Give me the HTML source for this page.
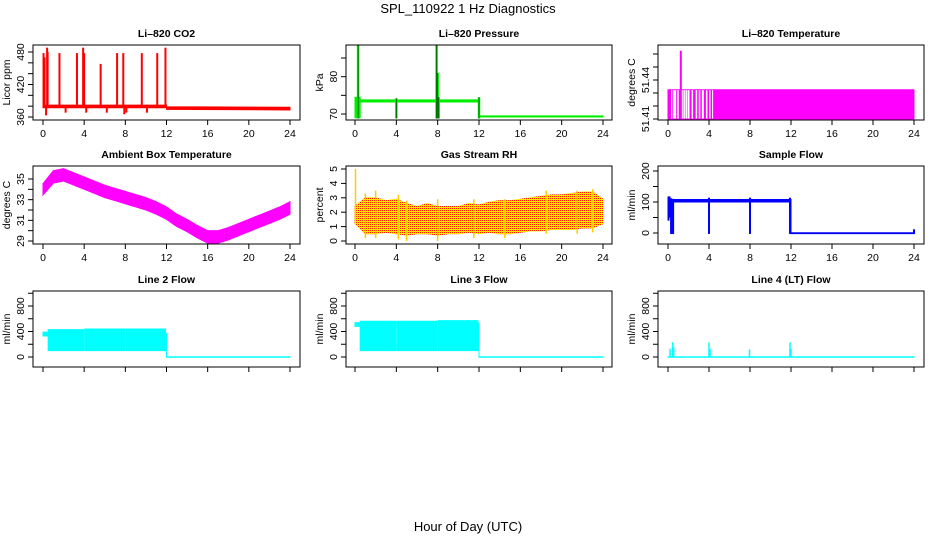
<!DOCTYPE html>
<html><head><meta charset="utf-8"><style>
html,body{margin:0;padding:0;background:#fff;}
svg{display:block;font-family:"Liberation Sans",sans-serif;}
</style></head><body>
<svg id="chart" width="936" height="540" viewBox="0 0 936 540" xmlns="http://www.w3.org/2000/svg">
<defs>
<pattern id="rhpat" width="2" height="2" patternUnits="userSpaceOnUse">
<rect width="2" height="2" fill="#ffe600"/><rect width="1" height="1" fill="#ff2000"/>
</pattern>
</defs>
<text x="468" y="13" text-anchor="middle" font-size="13">SPL_110922  1 Hz Diagnostics</text>
<text x="468" y="531" text-anchor="middle" font-size="13">Hour of Day (UTC)</text>
</svg>
<script>
// ---- data (hours) ----
const xTicks = [0,4,8,12,16,20,24];
// CO2
const co2BandHours = [0, 12, 12, 24];
const co2BandLo = [377, 377, 374, 373];
const co2BandHi = [382, 382, 379, 378];
const co2SpikeHours = [0.05,0.15,0.4,0.45,1.6,3.3,3.9,4.0,5.6,7.2,7.8,9.6,11.1,11.9,0.3,2.2,4.2,6.2,7.9,8.1,10.1];
const co2SpikeValues = [478,470,488,480,478,478,488,478,458,478,478,478,478,488,363,368,368,368,365,368,368];
// Pressure
const presBandHours = [0, 0.5, 0.5, 12, 12, 24];
const presBandLo = [69, 69, 73.2, 73.2, 69.2, 69.2];
const presBandHi = [74.5, 74.5, 73.8, 73.8, 69.5, 69.5];
const presSpikeHours = [0.3, 4.0, 7.9, 8.0, 8.1, 12.0];
const presSpikeLo = [68.8, 68.8, 68.8, 68.8, 68.8, 68.8];
const presSpikeHi = [88.5, 74.2, 88.5, 81, 74.5, 74.5];
// Li-820 temperature
const tempBandHours = [0, 24];
const tempBandLo = [51.41, 51.41];
const tempBandHi = [51.4325, 51.4325];
const tempGapHours = [0.3,0.5,0.9,1.35,1.5,1.7,1.9,2.3,2.7,3.0,3.3,3.7,4.0,4.3];
const tempGapWidths = [0.12,0.3,0.15,0.1,0.15,0.15,0.2,0.15,0.15,0.15,0.2,0.15,0.15,0.1];
const tempSpikeHours = [1.25];
const tempSpikeValues = [51.4625];
// Ambient box temperature (center per hour)
const ambHours = [0,1,2,3,4,5,6,7,8,9,10,11,12,13,14,15,16,17,18,19,20,21,22,23,24];
const ambCenter = [34.0,35.2,35.4,35.0,34.6,34.2,33.8,33.5,33.2,32.9,32.6,32.2,31.7,31.0,30.5,29.9,29.4,29.4,29.7,30.1,30.5,30.9,31.3,31.7,32.2];
const ambHalfWidth = [0.55,0.6,0.6,0.6,0.6,0.6,0.6,0.6,0.6,0.6,0.6,0.6,0.6,0.6,0.6,0.6,0.6,0.6,0.6,0.6,0.6,0.6,0.6,0.6,0.6];
// Gas stream RH
const rhHours = [0,1,2,3,4,5,6,7,8,9,10,11,12,13,14,15,16,17,18,19,20,21,22,23,24];
const rhLo = [1.2,0.5,0.5,0.6,0.5,0.4,0.5,0.5,0.4,0.5,0.5,0.6,0.5,0.6,0.5,0.5,0.6,0.7,0.7,0.8,0.8,0.8,0.9,0.9,1.2];
const rhHi = [2.4,3.0,3.0,2.8,2.9,2.6,2.4,2.6,2.4,2.4,2.4,2.6,2.5,2.7,2.8,2.8,2.9,3.0,3.1,3.2,3.2,3.3,3.4,3.4,2.9];
const rhSpikeHours = [0.05,1.0,2.0,4.2,5.0,8.0,11.5,14.5,18.5,21.5,23.0];
const rhSpikeLo = [1.5,0.2,0.2,0.1,0.0,0.0,0.2,0.2,0.5,0.5,0.6];
const rhSpikeHi = [5.0,3.3,3.5,3.2,2.8,2.9,2.9,2.9,3.5,3.5,3.6];
// Sample flow
const sfBandHours = [0.5, 12, 12, 24];
const sfBandLo = [100, 100, -2, -2];
const sfBandHi = [108, 108, 1, 1];
const sfSpikeHours = [0.05,0.15,0.3,0.4,0.5,4.0,8.0,11.9,24.0];
const sfSpikeLo = [40,50,-3,-3,-3,-3,-3,-3,-3];
const sfSpikeHi = [118,118,112,110,110,114,114,114,12];
// Line 2/3/4 flow
const l2BandHours = [[0,0.5],[0.5,3.95],[4.05,7.95],[8.05,11.9]];
const l2BandLo = [330,100,100,100];
const l2BandHi = [390,430,440,440];
const l3BandHours = [[0,0.5],[0.5,3.95],[4.05,7.95],[8.05,11.9]];
const l3BandLo = [480,100,100,100];
const l3BandHi = [540,560,560,570];
const l4SpikeHours = [0.2,0.45,0.55,4.0,4.1,7.95,11.9,12.0];
const l4SpikeValues = [130,230,150,230,130,120,230,130];

// ---- layout ----
const NS = 'http://www.w3.org/2000/svg';
const svg = document.getElementById('chart');
const cols = [{l:33,r:300,x0:43,x24:290},{l:346,r:612,x0:355,x24:603},{l:658,r:924,x0:668,x24:914}];
const rows = [{t:45,b:120},{t:166,b:244},{t:291,b:367}];
const FS = 10.5;

function mk(tag, attrs, parent){
  const e = document.createElementNS(NS, tag);
  for (const k in attrs) e.setAttribute(k, attrs[k]);
  (parent||svg).appendChild(e);
  return e;
}
function panel(ci, ri, name, title, ylab, v1, p1, v2, p2, yTicks, yLabels){
  const c = cols[ci], r = rows[ri];
  const g = mk('g', {});
  
  
  const X = h => c.x0 + (c.x24 - c.x0) * h / 24;
  const Y = v => p1 + (p2 - p1) * (v - v1) / (v2 - v1);
  const t = mk('text', {x:(c.l+c.r)/2, y:r.t-8, 'text-anchor':'middle','font-size':FS,'font-weight':'bold'}, g);
  t.textContent = title;
  
  
  const plot = mk('g', {}, g);
  
  
  const box = mk('rect', {x:c.l, y:r.t, width:c.r-c.l, height:r.b-r.t, fill:'none', stroke:'#000','stroke-width':1}, g);
  
  
  const xa = mk('g', {}, g);
  
  
  xTicks.forEach(h => {
    mk('line', {x1:X(h), x2:X(h), y1:r.b, y2:r.b+5, stroke:'#000'}, xa);
    if (ri < 2) {
      const tt = mk('text', {x:X(h), y:r.b+17, 'text-anchor':'middle','font-size':FS}, xa);
      tt.textContent = h;
    }
  });
  const ya = mk('g', {}, g);
  
  
  yTicks.forEach(v => mk('line', {x1:c.l-5, x2:c.l, y1:Y(v), y2:Y(v), stroke:'#000'}, ya));
  yLabels.forEach(v => {
    const tt = mk('text', {x:c.l-9, y:Y(v), 'text-anchor':'middle','font-size':FS, transform:`rotate(-90 ${c.l-9} ${Y(v)})`}, ya);
    tt.textContent = v;
  });
  const yl = mk('text', {x:c.l-23, y:(r.t+r.b)/2, 'text-anchor':'middle','font-size':FS, transform:`rotate(-90 ${c.l-23} ${(r.t+r.b)/2})`}, g);
  yl.textContent = ylab;
  
  
  return {X, Y, g:plot};
}
function band(p, hours, lo, hi, fill){
  let d = '';
  hours.forEach((h,i)=>{ d += (i?'L':'M') + p.X(h) + ' ' + p.Y(hi[i]); });
  for (let i = hours.length-1; i >= 0; i--) d += 'L' + p.X(hours[i]) + ' ' + p.Y(lo[i]);
  const e = mk('path', {d: d+'Z', fill:fill, stroke:fill, 'stroke-width':1}, p.g);
  
  
}
function vlines(p, hours, lo, hi, color, w){
  hours.forEach((h,i)=>{
    const e = mk('line', {x1:p.X(h), x2:p.X(h), y1:p.Y(lo[i]), y2:p.Y(hi[i]), stroke:color, 'stroke-width':w||1.5}, p.g);
    
    
  });
}

// CO2
let p = panel(0,0,'co2-panel','Li\u2013820 CO2','Licor ppm',480,52,360,117,[360,380,400,420,440,460,480],[360,420,480]);
band(p, co2BandHours, co2BandLo, co2BandHi, '#ff0000');
vlines(p, co2SpikeHours, co2SpikeHours.map(()=>380), co2SpikeValues, '#ff0000', 2);

// Pressure
p = panel(1,0,'pressure-panel','Li\u2013820 Pressure','kPa',70,114,85,58,[70,75,80,85],[70,80]);
band(p, presBandHours, presBandLo, presBandHi, '#00ee00');
vlines(p, presSpikeHours, presSpikeLo, presSpikeHi, '#00ee00', 2.5);
vlines(p, presSpikeHours, presSpikeLo, presSpikeHi, '#000', 0.5);

// Temperature
p = panel(2,0,'li820-temperature-panel','Li\u2013820 Temperature','degrees C',51.41,119,51.44,80,[51.41,51.42,51.43,51.44,51.45,51.46],[51.41,51.44]);
band(p, tempBandHours, tempBandLo, tempBandHi, '#ff00ff');
tempGapHours.forEach((h,i)=>{
  const e = mk('rect', {x:p.X(h), y:p.Y(51.4322), width:p.X(tempGapWidths[i])-p.X(0), height:p.Y(51.4103)-p.Y(51.4322), fill:'#fff'}, p.g);
  
  
});
vlines(p, tempSpikeHours, [51.4325], tempSpikeValues, '#ff00ff', 2);

// Ambient
p = panel(0,1,'ambient-temperature-panel','Ambient Box Temperature','degrees C',35,179,29,241,[29,30,31,32,33,34,35],[29,31,33,35]);
band(p, ambHours, ambCenter.map((v,i)=>v-ambHalfWidth[i]), ambCenter.map((v,i)=>v+ambHalfWidth[i]), '#ff00ff');

// RH
p = panel(1,1,'rh-panel','Gas Stream RH','percent',0,241,5,169,[0,1,2,3,4,5],[0,1,2,3,4,5]);
band(p, rhHours, rhLo, rhHi, 'url(#rhpat)');
vlines(p, rhSpikeHours, rhSpikeLo, rhSpikeHi, '#ffcc00', 1.5);

// Sample flow
p = panel(2,1,'sample-flow-panel','Sample Flow','ml/min',0,233,200,171,[0,50,100,150,200],[0,100,200]);
band(p, sfBandHours, sfBandLo, sfBandHi, '#0000ff');
vlines(p, sfSpikeHours, sfSpikeLo, sfSpikeHi, '#0000ff', 2);

// Line 2/3/4
const rT = [0,200,400,600,800,1000], rL = [0,400,800];
p = panel(0,2,'line2-flow-panel','Line 2 Flow','ml/min',0,357,800,306,rT,rL);
l2BandHours.forEach((hh,i)=>band(p, hh, [l2BandLo[i],l2BandLo[i]], [l2BandHi[i],l2BandHi[i]], '#00ffff'));
band(p, [12,24], [-3,-3], [3,3], '#00ffff');
vlines(p, [12], [0], [380], '#00ffff', 1);

p = panel(1,2,'line3-flow-panel','Line 3 Flow','ml/min',0,357,800,306,rT,rL);
l3BandHours.forEach((hh,i)=>band(p, hh, [l3BandLo[i],l3BandLo[i]], [l3BandHi[i],l3BandHi[i]], '#00ffff'));
band(p, [12,24], [-3,-3], [3,3], '#00ffff');
vlines(p, [12], [0], [540], '#00ffff', 1);

p = panel(2,2,'line4-flow-panel','Line 4 (LT) Flow','ml/min',0,357,800,306,rT,rL);
band(p, [0,24], [-3,-3], [3,3], '#00ffff');
vlines(p, l4SpikeHours, l4SpikeHours.map(()=>0), l4SpikeValues, '#00ffff', 1.5);
</script>
</body></html>
